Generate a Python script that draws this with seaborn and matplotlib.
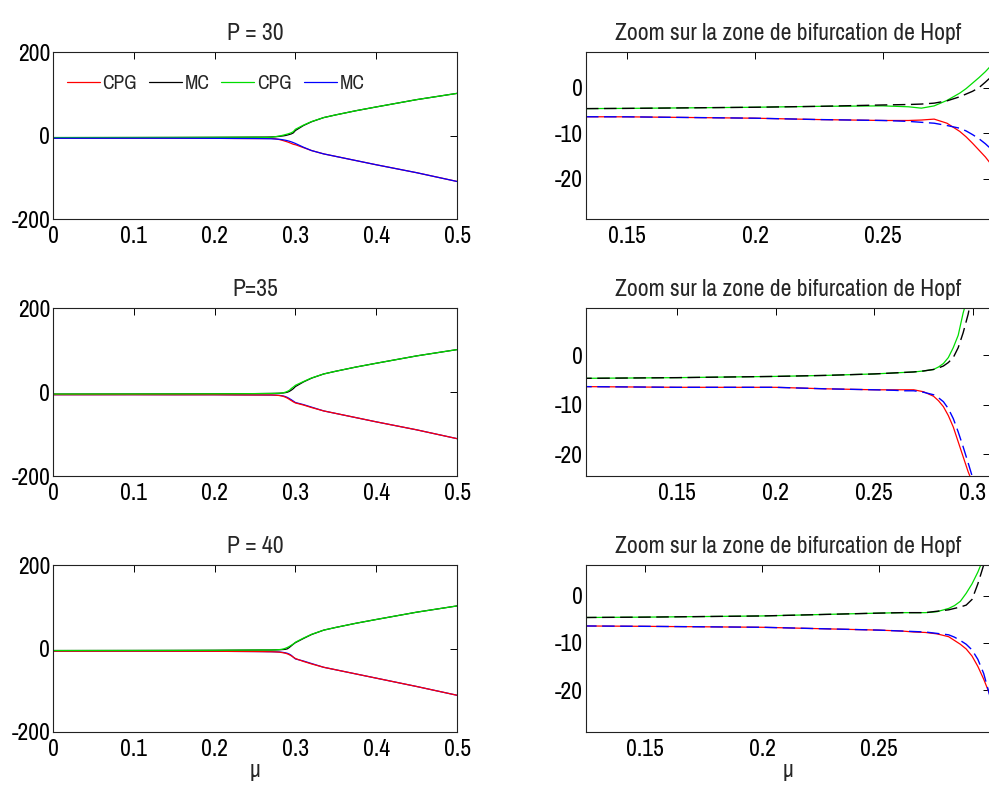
import matplotlib
matplotlib.use("Agg")
import matplotlib.pyplot as plt
import seaborn as sns

# ---------------- data ----------------
mu = [0.0, 0.05, 0.10, 0.15, 0.20, 0.225, 0.25, 0.26, 0.265, 0.27, 0.275, 0.28,
      0.2825, 0.285, 0.2875, 0.29, 0.2925, 0.295, 0.2975, 0.30, 0.31, 0.32,
      0.335, 0.35, 0.375, 0.40, 0.45, 0.50]

# P = 30
cpg_up_30 = [-4.9, -4.8, -4.7, -4.55, -4.3, -4.1, -4.0, -4.2, -4.5, -4.0, -2.8, -1.2,
             -0.2, 1.0, 2.2, 3.5, 5.0, 6.8, 9.5, 15.0, 25.0, 33.5, 43.0, 49.5, 59.5, 68.5, 86.0, 101.0]
mc_up_30 = [-4.9, -4.8, -4.7, -4.55, -4.3, -4.1, -3.8, -3.7, -3.6, -3.4, -2.9, -2.0,
            -1.4, -0.8, 0.0, 1.2, 2.5, 4.0, 6.5, 12.0, 24.0, 33.0, 43.0, 49.5, 59.5, 68.5, 86.0, 101.0]
cpg_lo_30 = [-6.4, -6.4, -6.35, -6.4, -6.7, -7.0, -7.2, -7.2, -7.1, -6.9, -7.8, -9.6,
             -10.8, -12.2, -13.7, -15.2, -17.0, -19.0, -21.0, -22.0, -29.0, -36.0, -44.0, -50.0, -60.0, -70.0, -89.0, -110.0]
mc_lo_30 = [-6.4, -6.4, -6.35, -6.4, -6.7, -7.0, -7.2, -7.4, -7.6, -7.8, -8.3, -8.9,
            -9.5, -10.3, -11.2, -12.3, -13.6, -15.2, -17.0, -19.0, -28.0, -36.0, -44.0, -50.0, -60.0, -70.0, -89.0, -110.0]

# P = 35
cpg_up_35 = [-4.9, -4.8, -4.7, -4.55, -4.3, -4.1, -3.8, -3.6, -3.5, -3.4, -3.2, -2.9,
             -2.4, -1.7, -0.5, 1.5, 4.0, 8.5, 12.0, 16.0, 25.0, 33.5, 43.0, 49.5, 59.5, 68.5, 86.0, 101.0]
mc_up_35 = [-4.9, -4.8, -4.7, -4.55, -4.3, -4.1, -3.8, -3.6, -3.5, -3.4, -3.2, -2.9,
            -2.6, -2.2, -1.5, -0.5, 1.5, 4.5, 8.2, 13.0, 24.0, 33.0, 43.0, 49.5, 59.5, 68.5, 86.0, 101.0]
cpg_lo_35 = [-6.4, -6.4, -6.35, -6.5, -6.5, -6.8, -7.0, -7.0, -7.0, -7.0, -7.4, -8.3,
             -9.2, -10.4, -12.2, -14.5, -17.5, -20.5, -23.5, -26.0, -31.0, -37.0, -45.0, -51.0, -61.0, -71.0, -90.0, -111.0]
mc_lo_35 = [-6.4, -6.4, -6.35, -6.5, -6.5, -6.8, -7.0, -7.1, -7.2, -7.2, -7.5, -8.0,
            -8.6, -9.4, -10.8, -12.8, -15.5, -18.5, -21.7, -25.0, -30.0, -36.0, -45.0, -51.0, -61.0, -71.0, -90.0, -111.0]

# P = 40
cpg_up_40 = [-4.9, -4.8, -4.7, -4.55, -4.3, -4.0, -3.7, -3.6, -3.6, -3.6, -3.4, -2.7,
             -2.1, -1.2, 0.5, 2.5, 5.0, 8.0, 11.0, 15.0, 25.0, 34.0, 44.0, 50.5, 60.5, 69.5, 87.0, 102.0]
mc_up_40 = [-4.9, -4.8, -4.7, -4.55, -4.3, -4.0, -3.7, -3.6, -3.6, -3.6, -3.3, -3.0,
            -2.7, -2.4, -2.0, -0.8, 2.5, 6.5, 10.5, 14.0, 24.0, 33.5, 44.0, 50.5, 60.5, 69.5, 87.0, 102.0]
cpg_lo_40 = [-6.4, -6.4, -6.35, -6.5, -6.7, -7.0, -7.3, -7.5, -7.7, -7.8, -8.1, -8.7,
             -9.5, -10.3, -11.3, -12.8, -15.0, -17.7, -20.8, -24.0, -31.0, -37.0, -45.0, -51.0, -61.0, -71.0, -91.0, -112.0]
mc_lo_40 = [-6.4, -6.4, -6.35, -6.5, -6.7, -7.0, -7.3, -7.5, -7.6, -7.7, -8.0, -8.3,
            -8.8, -9.5, -10.3, -11.5, -13.5, -16.5, -21.0, -25.0, -30.0, -36.0, -45.0, -51.0, -61.0, -71.0, -91.0, -112.0]

left_titles = ["P = 30", "P=35", "P = 40"]
zoom_title = "Zoom sur la zone de bifurcation de Hopf"
legend_labels = ["CPG", "MC", "CPG", "MC"]
left_xticks = [0, 0.1, 0.2, 0.3, 0.4, 0.5]
left_xticklabels = ["0", "0.1", "0.2", "0.3", "0.4", "0.5"]
left_yticks = [-200, 0, 200]
left_yticklabels = ["-200", "0", "200"]
zoom_xticks = [0.15, 0.2, 0.25, 0.3]
zoom_xticklabels = ["0.15", "0.2", "0.25", "0.3"]
zoom_yticks = [-20, -10, 0]
zoom_yticklabels = ["-20", "-10", "0"]
xlabel = "\u03bc"

panels = [
    (cpg_lo_30, mc_up_30, cpg_up_30, mc_lo_30),
    (cpg_lo_35, mc_up_35, cpg_up_35, mc_lo_35),
    (cpg_lo_40, mc_up_40, cpg_up_40, mc_lo_40),
]
colors = ["#ff0000", "#000000", "#00dd00", "#0000ff"]

# ---------------- style ----------------
sns.set_style("white")
FONT = ["Archivo Narrow", "Liberation Sans", "DejaVu Sans"]
plt.rcParams["font.family"] = FONT
plt.rcParams["axes.unicode_minus"] = False

fig = plt.figure(figsize=(9.89, 7.91), dpi=100)
rows = [(0.7231, 0.2111), (0.3982, 0.2124), (0.0746, 0.2111)]
zoom_xlims = [(0.134, 0.2918), (0.104, 0.3086), (0.1246, 0.2977)]
zoom_ylims = [(-28.8, 7.8), (-24.4, 9.5), (-28.9, 6.5)]


def style(ax):
    ax.tick_params(direction="in", top=True, right=True, length=5, width=0.7,
                   labelsize=17, colors="black")
    ax.tick_params(axis="x", pad=5)
    ax.tick_params(axis="y", pad=2)
    for s in ax.spines.values():
        s.set_linewidth(0.8)
        s.set_color("#222222")
        s.set_visible(True)
    ax.grid(False)


for i, (b, h) in enumerate(rows):
    series = panels[i]
    axL = fig.add_axes([0.0536, b, 0.4085, h])
    axR = fig.add_axes([0.5925, b, 0.4085, h])

    # left panel: drawing order controls which curve shows on top
    order = [0, 1, 2, 3] if i == 0 else [1, 3, 0, 2]
    for k in order:
        sns.lineplot(x=mu, y=series[k], ax=axL, color=colors[k], linewidth=0.9,
                     estimator=None, sort=False, legend=False)
    axL.set_xlim(0, 0.5)
    axL.set_ylim(-200, 200)
    axL.set_xticks(left_xticks, left_xticklabels)
    axL.set_yticks(left_yticks, left_yticklabels)
    axL.set_title(left_titles[i], fontsize=17, pad=9)
    style(axL)

    if i == 0:
        handles = [next(l for l in axL.get_lines() if l.get_color() == c) for c in colors]
        axL.legend(handles, legend_labels, ncol=4, loc="upper left", frameon=False,
                   prop={"family": FONT, "size": 14}, handlelength=1.7,
                   handletextpad=0.15, columnspacing=0.6,
                   bbox_to_anchor=(0.0, 0.95), borderaxespad=0.3)

    # right panel: zoom on the Hopf bifurcation
    for k in [0, 2]:
        sns.lineplot(x=mu, y=series[k], ax=axR, color=colors[k], linewidth=0.9,
                     estimator=None, sort=False, legend=False)
    for k in [1, 3]:
        sns.lineplot(x=mu, y=series[k], ax=axR, color=colors[k], linewidth=1.0,
                     estimator=None, sort=False, legend=False)
        axR.get_lines()[-1].set_linestyle((0, (9, 4)))
    axR.set_xticks(zoom_xticks, zoom_xticklabels)
    axR.set_yticks(zoom_yticks, zoom_yticklabels)
    axR.set_xlim(*zoom_xlims[i])
    axR.set_ylim(*zoom_ylims[i])
    axR.set_title(zoom_title, fontsize=17, pad=9)
    style(axR)

    for ax in (axL, axR):
        ax.set_xlabel("")
        ax.set_ylabel("")
    if i == 2:
        axL.set_xlabel(xlabel, fontsize=17, labelpad=0)
        axR.set_xlabel(xlabel, fontsize=17, labelpad=0)

fig.savefig("out.png", dpi=100, facecolor="white")
